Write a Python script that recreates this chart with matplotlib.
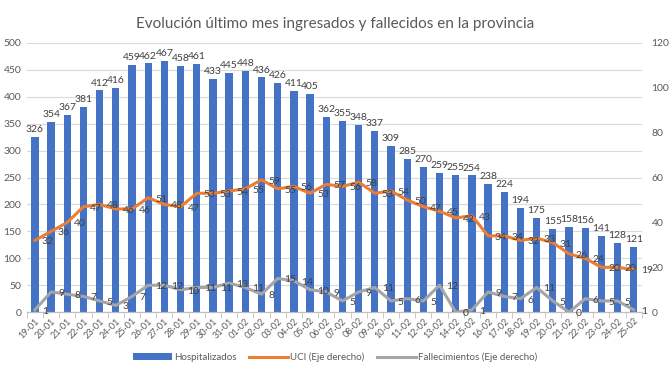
import matplotlib.pyplot as plt
import numpy as np

plt.rcParams['font.family'] = ['Lato', 'DejaVu Sans']

fechas = ["19-01", "20-01", "21-01", "22-01", "23-01", "24-01", "25-01", "26-01", "27-01",
          "28-01", "29-01", "30-01", "31-01", "01-02", "02-02", "03-02", "04-02", "05-02",
          "06-02", "07-02", "08-02", "09-02", "10-02", "11-02", "12-02", "13-02", "14-02",
          "15-02", "16-02", "17-02", "18-02", "19-02", "20-02", "21-02", "22-02", "23-02",
          "24-02", "25-02"]
hospitalizados = [326, 354, 367, 381, 412, 416, 459, 462, 467, 458, 461, 433, 445, 448, 436,
                  426, 411, 405, 362, 355, 348, 337, 309, 285, 270, 259, 255, 254, 238, 224,
                  194, 175, 155, 158, 156, 141, 128, 121]
uci = [32, 36, 40, 47, 48, 46, 46, 51, 48, 47, 53, 53, 54, 55, 59, 55, 56, 53, 57, 56,
       58, 53, 54, 50, 47, 45, 42, 43, 34, 34, 32, 33, 31, 26, 24, 20, 20, 19]
fallecimientos = [1, 9, 8, 7, 5, 3, 7, 12, 12, 10, 11, 11, 13, 11, 8, 15, 14, 10, 9,
                  5, 9, 11, 5, 6, 5, 12, 0, 1, 9, 7, 6, 11, 5, 0, 6, 5, 5, 1]

azul = "#4472C4"
naranja = "#ED7D31"
gris = "#A5A5A5"
texto = "#404040"

fig = plt.figure(figsize=(6.7, 3.77), dpi=100)
ax = fig.add_axes([0.040, 0.172, 0.918, 0.714])
ax2 = ax.twinx()

x = np.arange(len(fechas))
ax.bar(x, hospitalizados, width=0.45, color=azul, zorder=2, label="Hospitalizados")
for xi, v in zip(x, hospitalizados):
    ax.annotate(str(v), (xi, v), xytext=(0, 2), textcoords="offset points",
                ha="center", va="bottom", fontsize=7.5, color=texto)

ax2.plot(x, uci, color=naranja, lw=2.2, label="UCI (Eje derecho)", zorder=3)
ax2.plot(x, fallecimientos, color=gris, lw=2.2, label="Fallecimientos (Eje derecho)", zorder=3)
for xi, v in zip(x, uci):
    ax2.annotate(str(v), (xi, v), xytext=(5, -1), textcoords="offset points",
                 ha="left", va="center", fontsize=7.5, color=texto)
for xi, v in zip(x, fallecimientos):
    ax2.annotate(str(v), (xi, v), xytext=(5, -1), textcoords="offset points",
                 ha="left", va="center", fontsize=7.5, color=texto)

ax.set_xlim(-0.5, len(fechas) - 0.5)
ax.set_ylim(0, 500)
ax.set_yticks(np.arange(0, 501, 50))
ax2.set_ylim(0, 120)
ax2.set_yticks(np.arange(0, 121, 20))

ax.set_xticks(x)
ax.set_xticklabels(fechas, rotation=45, ha="right", rotation_mode="anchor", fontsize=6.5, color="#595959")
ax.set_xticks(np.arange(-0.5, len(fechas), 1), minor=True)
ax.tick_params(axis="x", which="major", length=0, pad=3)
ax.tick_params(axis="x", which="minor", length=4, color="#BFBFBF")
ax.tick_params(axis="y", length=0, labelsize=7.5, labelcolor="#595959", pad=4)
ax2.tick_params(axis="y", length=0, labelsize=7.5, labelcolor="#595959", pad=7)

ax.grid(axis="y", color="#D9D9D9", lw=0.8, zorder=0)
ax.set_axisbelow(True)
for a in (ax, ax2):
    for s in ("top", "left", "right"):
        a.spines[s].set_visible(False)
    a.spines["bottom"].set_color("#BFBFBF")

fig.suptitle("Evolución último mes ingresados y fallecidos en la provincia",
             y=0.955, fontsize=11, color="#595959")

h1, l1 = ax.get_legend_handles_labels()
h2, l2 = ax2.get_legend_handles_labels()
fig.legend(h1 + h2, l1 + l2, loc="center", bbox_to_anchor=(0.5, 0.052), ncol=3,
           frameon=False, fontsize=7, labelcolor="#595959", handlelength=4,
           columnspacing=1.3, handletextpad=0.2)

fig.savefig("out.png", dpi=100)
